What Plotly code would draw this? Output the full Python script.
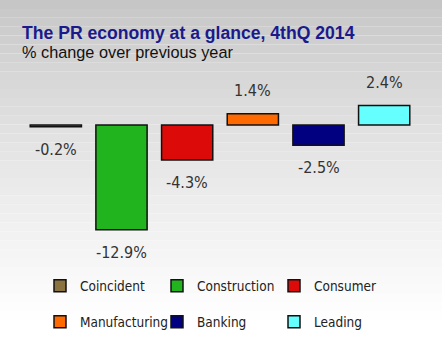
import plotly.graph_objects as go

categories = ["Coincident", "Construction", "Consumer", "Manufacturing", "Banking", "Leading"]
values = [-0.2, -12.9, -4.3, 1.4, -2.5, 2.4]
labels = ["-0.2%", "-12.9%", "-4.3%", "1.4%", "-2.5%", "2.4%"]
colors = ["#8b7340", "#22b41e", "#dd0a0a", "#ff6a00", "#000080", "#66ffff"]
legend_rows = ["legend", "legend", "legend", "legend2", "legend2", "legend2"]

W, H = 442, 356
ML, MR, MT, MB = 23, 25, 60, 101
PW, PH = W - ML - MR, H - MT - MB

def px_x(x):
    return (x - ML) / PW

def px_y(y):
    return (H - MB - y) / PH

fig = go.Figure()
for cat, v, c, lg in zip(categories, values, colors, legend_rows):
    fig.add_trace(go.Bar(
        x=[cat], y=[v], name=cat, width=0.78,
        marker=dict(color=c, line=dict(color="#111111", width=1.5)),
        legend=lg, hoverinfo="skip",
    ))

annotations = []
for cat, v, t in zip(categories, values, labels):
    annotations.append(dict(
        x=cat, y=v, xref="x", yref="y", text=t, showarrow=False,
        yanchor="top" if v < 0 else "bottom",
        yshift=-11 if v < 0 else 12,
        font=dict(family="DejaVu Sans Condensed, DejaVu Sans", size=16, color="#333333"),
    ))

annotations.append(dict(
    x=px_x(20), y=px_y(33), xref="paper", yref="paper", xanchor="left", yanchor="middle",
    text="<b>The PR economy at a glance, 4thQ 2014</b>", showarrow=False,
    font=dict(family="Liberation Sans", size=17.6, color="#1a1a8c"),
))
annotations.append(dict(
    x=px_x(20), y=px_y(52), xref="paper", yref="paper", xanchor="left", yanchor="middle",
    text="% change over previous year", showarrow=False,
    font=dict(family="Liberation Sans", size=16.3, color="#111111"),
))

# background gradient (grey at top to white at bottom)
shapes = []
n = 40
for i in range(n):
    y0 = H * i / n
    y1 = H * (i + 1) / n
    t = (y0 + y1) / 2 / 320.0
    g = int(round(min(255, 196 + 59 * min(1, t) ** 0.8)))
    shapes.append(dict(
        type="rect", xref="paper", yref="paper", layer="below",
        x0=px_x(0), x1=px_x(W), y0=px_y(y1), y1=px_y(y0),
        fillcolor=f"rgb({g},{g},{g})", line=dict(width=0),
    ))

legend_font = dict(family="DejaVu Sans Condensed, DejaVu Sans", size=13.5, color="#222222")
fig.update_layout(
    width=W, height=H,
    margin=dict(l=ML, r=MR, t=MT, b=MB, autoexpand=False),
    paper_bgcolor="white", plot_bgcolor="rgba(0,0,0,0)",
    barmode="overlay",
    xaxis=dict(visible=False, range=[-0.5, 5.5]),
    yaxis=dict(visible=False, range=[-16, 8]),
    showlegend=True,
    legend=dict(orientation="h", x=px_x(40), y=px_y(286), xanchor="left", yanchor="middle",
                entrywidth=72, entrywidthmode="pixels", font=legend_font,
                bgcolor="rgba(0,0,0,0)", itemclick=False, itemdoubleclick=False),
    legend2=dict(orientation="h", x=px_x(40), y=px_y(322), xanchor="left", yanchor="middle",
                 entrywidth=72, entrywidthmode="pixels", font=legend_font,
                 bgcolor="rgba(0,0,0,0)", itemclick=False, itemdoubleclick=False),
    annotations=annotations,
    shapes=shapes,
)

fig.write_html(
    "out.html",
    config={"displayModeBar": False},
    post_script="document.body.style.margin='0';document.body.style.overflow='hidden';",
)
